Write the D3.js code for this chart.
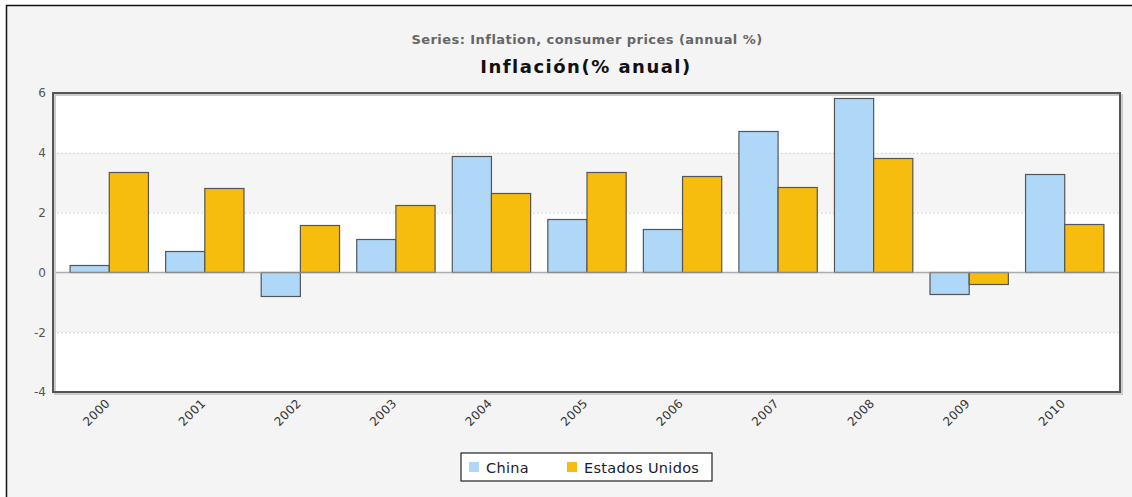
<!DOCTYPE html>
<html><head><meta charset="utf-8">
<script src="https://cdn.jsdelivr.net/npm/d3@7"></script>
<style>
html,body{margin:0;padding:0;background:#fff;}
svg{display:block;font-family:"DejaVu Sans",Verdana,sans-serif;}
</style></head>
<body>
<svg id="chart" width="1132" height="497"></svg>
<script>
const years = ["2000","2001","2002","2003","2004","2005","2006","2007","2008","2009","2010"];
const seriesNames = ["China","Estados Unidos"];
const china = [0.24, 0.70, -0.78, 1.13, 3.88, 1.80, 1.46, 4.74, 5.84, -0.72, 3.30];
const usa = [3.36, 2.81, 1.59, 2.27, 2.66, 3.36, 3.22, 2.85, 3.83, -0.38, 1.62];
const colors = ["#afd8f8", "#f6bd0f"];
const yTicks = [-4, -2, 0, 2, 4, 6];
const subTitle = "Series: Inflation, consumer prices (annual %)";
const mainTitle = "Inflación(% anual)";

const svg = d3.select("#chart");
const W = 1132, H = 497;
const plot = {l: 53, t: 93, r: 1120, b: 392};

// outer panel
svg.append("rect").attr("x", 6.5).attr("y", 5.5).attr("width", W + 10).attr("height", H + 10)
  .attr("fill", "#f4f4f4").attr("stroke", "#111").attr("stroke-width", 1.5);

svg.append("text").attr("x", 587).attr("y", 44).attr("text-anchor", "middle")
  .attr("font-size", 13).attr("letter-spacing", 0.45).attr("font-weight", "bold").attr("fill", "#666").text(subTitle);
svg.append("text").attr("x", 586).attr("y", 73).attr("text-anchor", "middle")
  .attr("font-size", 18).attr("letter-spacing", 1.5).attr("font-weight", "bold").attr("fill", "#111").text(mainTitle);

const y = d3.scaleLinear().domain([-4, 6]).range([plot.b, plot.t]);
const x0 = d3.scaleBand().domain(years).range([plot.l + 8, plot.r - 8]).paddingInner(0).paddingOuter(0);
const x1 = d3.scaleBand().domain(seriesNames).range([0, x0.bandwidth() * 0.82]);
const groupOffset = x0.bandwidth() * 0.09;

// plot background & bands
svg.append("rect").attr("x", plot.l).attr("y", plot.t).attr("width", plot.r - plot.l).attr("height", plot.b - plot.t)
  .attr("fill", "#fff");
const bandPairs = d3.pairs(yTicks);
svg.append("g").selectAll("rect").data(bandPairs).join("rect")
  .attr("x", plot.l).attr("width", plot.r - plot.l)
  .attr("y", d => y(d[1])).attr("height", d => y(d[0]) - y(d[1]))
  .attr("fill", (d, i) => (i % 2 === 1) ? "#f5f5f5" : "#ffffff");

// grid
svg.append("g").selectAll("line").data(yTicks.filter(v => v !== 0 && v !== -4 && v !== 6)).join("line")
  .attr("x1", plot.l).attr("x2", plot.r).attr("y1", d => y(d) + 0.5).attr("y2", d => y(d) + 0.5)
  .attr("stroke", "#c8c8c8").attr("stroke-width", 1).attr("stroke-dasharray", "1.5,2.5");

// bars
const data = years.map((yr, i) => ({year: yr, vals: [china[i], usa[i]]}));
const groups = svg.append("g").selectAll("g").data(data).join("g")
  .attr("transform", d => `translate(${x0(d.year) + groupOffset},0)`);
groups.selectAll("rect").data(d => d.vals.map((v, k) => ({k, v}))).join("rect")
  .attr("x", d => x1(seriesNames[d.k]) + 0.5)
  .attr("width", x1.bandwidth())
  .attr("y", d => Math.round(y(Math.max(0, d.v))) + 0.5)
  .attr("height", d => Math.abs(Math.round(y(d.v)) - Math.round(y(0))))
  .attr("fill", d => colors[d.k]).attr("stroke", "#555").attr("stroke-width", 1.2);

// zero line
svg.append("line").attr("x1", plot.l).attr("x2", plot.r).attr("y1", y(0)).attr("y2", y(0))
  .attr("stroke", "#999").attr("stroke-width", 1.5).attr("opacity", 0.8);

// plot border with shadow
svg.append("rect").attr("x", plot.l + 2).attr("y", plot.t + 2).attr("width", plot.r - plot.l).attr("height", plot.b - plot.t)
  .attr("fill", "none").attr("stroke", "#ccc").attr("stroke-width", 2);
svg.append("rect").attr("x", plot.l).attr("y", plot.t).attr("width", plot.r - plot.l).attr("height", plot.b - plot.t)
  .attr("fill", "none").attr("stroke", "#555").attr("stroke-width", 2);

// y axis labels
const yAxis = d3.axisLeft(y).tickValues(yTicks).tickSize(0).tickPadding(7).tickFormat(d => String(d));
const ya = svg.append("g").attr("transform", `translate(${plot.l},0)`).call(yAxis);
ya.select(".domain").remove();
ya.selectAll("text").attr("font-size", 12).attr("fill", "#555").attr("font-family", "DejaVu Sans, sans-serif");

// x axis labels
const xAxis = d3.axisBottom(x0).tickSize(0).tickPadding(0);
const xa = svg.append("g").attr("transform", `translate(0,${plot.b})`).call(xAxis);
xa.select(".domain").remove();
xa.selectAll("text")
  .attr("font-size", 12).attr("letter-spacing", 0.4).attr("fill", "#333").attr("font-family", "DejaVu Sans, sans-serif")
  .attr("text-anchor", "end").attr("dy", null).attr("y", 0)
  .attr("transform", "translate(2,12) rotate(-45)");

// legend
const leg = svg.append("g");
leg.append("rect").attr("x", 461).attr("y", 453).attr("width", 251).attr("height", 28)
  .attr("fill", "#fff").attr("stroke", "#222").attr("stroke-width", 1.2);
const legX = [469, 567];
const li = leg.selectAll("g").data(seriesNames).join("g")
  .attr("transform", (d, i) => `translate(${legX[i]},462)`);
li.append("rect").attr("width", 10).attr("height", 10).attr("fill", (d, i) => colors[i]);
li.append("text").attr("x", 17).attr("y", 10.5).attr("font-size", 14.5).attr("letter-spacing", 0.3).attr("fill", "#1a1a33").text(d => d);
</script>
</body></html>
